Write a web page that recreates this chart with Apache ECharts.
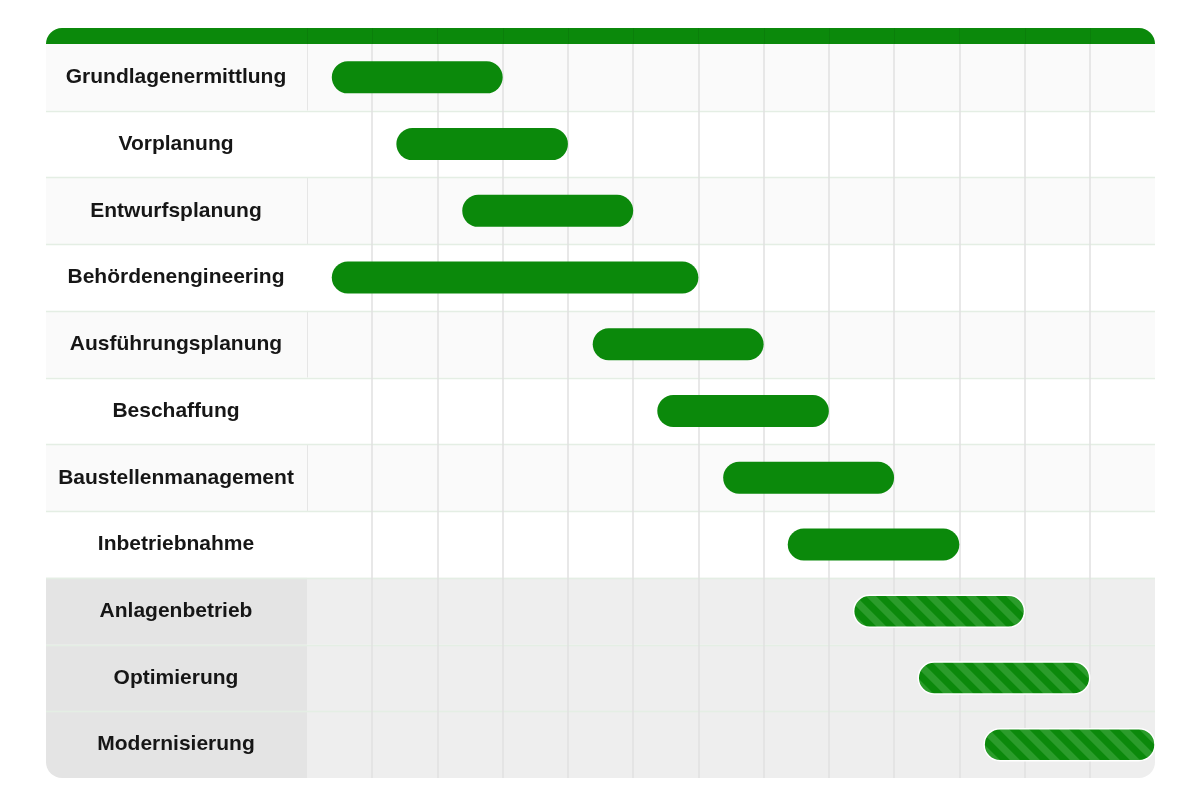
<!DOCTYPE html>
<html>
<head>
<meta charset="utf-8">
<script src="https://cdn.jsdelivr.net/npm/echarts@6/dist/echarts.min.js"></script>
<style>
html,body{margin:0;padding:0;background:#ffffff;}
#chart{width:1200px;height:800px;}
</style>
</head>
<body>
<div id="chart"></div>
<script>
// ---- data ----
const categories = ['Grundlagenermittlung','Vorplanung','Entwurfsplanung','Behördenengineering','Ausführungsplanung','Beschaffung','Baustellenmanagement','Inbetriebnahme','Anlagenbetrieb','Optimierung','Modernisierung'];
const startValues = [0.38, 1.37, 2.38, 0.38, 4.38, 5.37, 6.38, 7.37, 8.38, 9.37, 10.38];
const endValues   = [3, 4, 5, 6, 7, 8, 9, 10, 11, 12, 13];
const phases = ['Planung','Planung','Planung','Planung','Planung','Planung','Planung','Planung','Betrieb','Betrieb','Betrieb'];
const axisMin = 0, axisMax = 13;

// ---- styles ----
const GREEN = '#0b890b';
const DARK_RGB = [11, 137, 11];
const LIGHT_RGB = [43, 156, 43];
const LABEL_W = 261;

// hatched pattern (diagonal stripes, top-left to bottom-right)
const TILE = 20;
const tile = document.createElement('canvas');
tile.width = TILE; tile.height = TILE;
(function(){
  const c = tile.getContext('2d');
  const img = c.createImageData(TILE, TILE);
  const ss = 4;
  for (let y = 0; y < TILE; y++) {
    for (let x = 0; x < TILE; x++) {
      let cov = 0;
      for (let sy = 0; sy < ss; sy++) for (let sx = 0; sx < ss; sx++) {
        const px = x + (sx + 0.5) / ss, py = y + (sy + 0.5) / ss;
        const d = (((px - py) % TILE) + TILE) % TILE;
        if (d < TILE / 2) cov++;
      }
      const a = cov / (ss * ss);
      const o = (y * TILE + x) * 4;
      for (let k = 0; k < 3; k++) img.data[o + k] = Math.round(DARK_RGB[k] * a + LIGHT_RGB[k] * (1 - a));
      img.data[o + 3] = 255;
    }
  }
  c.putImageData(img, 0, 0);
})();
const hatch = { image: tile, repeat: 'repeat' };

const chart = echarts.init(document.getElementById('chart'), null, {renderer: 'canvas'});

const splitColors = [];
for (let i = axisMin; i <= axisMax; i++) splitColors.push(i === axisMin || i === axisMax ? 'rgba(0,0,0,0)' : '#e1e1e1');

function renderRow(params, api) {
  const i = api.value(1);
  const p0 = api.coord([axisMin, i]);
  const p1 = api.coord([axisMax, i]);
  const h = api.size([0, 1])[1];
  const top = p0[1] - h / 2;
  const xL = p0[0] - LABEL_W;
  const ops = phases[i] === 'Betrieb';
  const odd = i % 2 === 0;
  const last = i === categories.length - 1;
  const chartFill = ops ? '#eeeeee' : (odd ? '#fafafa' : '#ffffff');
  const labelFill = ops ? '#e4e4e4' : chartFill;
  const children = [
    {type: 'rect', shape: {x: xL, y: top, width: LABEL_W, height: h, r: last ? [0,0,0,16] : 0}, style: {fill: labelFill}},
    {type: 'rect', shape: {x: p0[0], y: top, width: p1[0] - p0[0], height: h, r: last ? [0,0,16,0] : 0}, style: {fill: chartFill}}
  ];
  if (odd && !ops) {
    children.push({type: 'line', shape: {x1: p0[0] + 0.5, y1: top, x2: p0[0] + 0.5, y2: top + h}, style: {stroke: '#e6e6e6', lineWidth: 1}});
  }
  if (i > 0) {
    children.push({type: 'line', shape: {x1: xL, y1: Math.round(top) + 0.5, x2: p1[0], y2: Math.round(top) + 0.5}, style: {stroke: '#e4eee4', lineWidth: 1.5}});
  } else {
    // header band
    children.push({type: 'rect', shape: {x: xL, y: top - 16, width: p1[0] - xL, height: 16, r: [16,16,0,0]}, style: {fill: GREEN}});
    for (let k = axisMin; k < axisMax; k++) {
      const x = Math.round(api.coord([k, i])[0]) + 0.5;
      children.push({type: 'line', shape: {x1: x, y1: top - 16, x2: x, y2: top}, style: {stroke: 'rgba(0,0,0,0.07)', lineWidth: 1}});
    }
  }
  return {type: 'group', children};
}

function renderBar(params, api) {
  const i = api.value(2);
  const s = api.coord([api.value(0), i]);
  const e = api.coord([api.value(1), i]);
  const bh = 32;
  const ops = phases[i] === 'Betrieb';
  return {
    type: 'rect',
    shape: {x: s[0], y: s[1] - bh / 2, width: e[0] - s[0], height: bh, r: bh / 2},
    style: {fill: ops ? hatch : GREEN, stroke: '#ffffff', lineWidth: ops ? 1.5 : 0}
  };
}

const option = {
  backgroundColor: '#ffffff',
  animation: false,
  grid: {left: 307, right: 45, top: 44, bottom: 22, containLabel: false},
  xAxis: {
    type: 'value', min: axisMin, max: axisMax, interval: 1,
    axisLine: {show: false}, axisTick: {show: false}, axisLabel: {show: false},
    splitLine: {show: true, lineStyle: {color: splitColors, width: 1.5}}
  },
  yAxis: {
    type: 'category', data: categories, inverse: true,
    axisLine: {show: false}, axisTick: {show: false}, splitLine: {show: false},
    axisLabel: {
      margin: 131, align: 'center', color: '#161616',
      fontFamily: 'Liberation Sans, Arial, sans-serif', fontWeight: 'bold', fontSize: 21,
      padding: [0, 0, 0, 0], lineHeight: 24, verticalAlign: 'middle'
    }
  },
  series: [
    {
      type: 'custom', z: -1, silent: true, clip: false,
      renderItem: renderRow,
      encode: {x: 0, y: 1},
      data: categories.map((c, i) => [axisMin, i])
    },
    {
      type: 'custom', z: 3, clip: false,
      renderItem: renderBar,
      encode: {x: [0, 1], y: 2},
      data: categories.map((c, i) => [startValues[i], endValues[i], i])
    }
  ]
};
chart.setOption(option);
</script>
</body>
</html>
